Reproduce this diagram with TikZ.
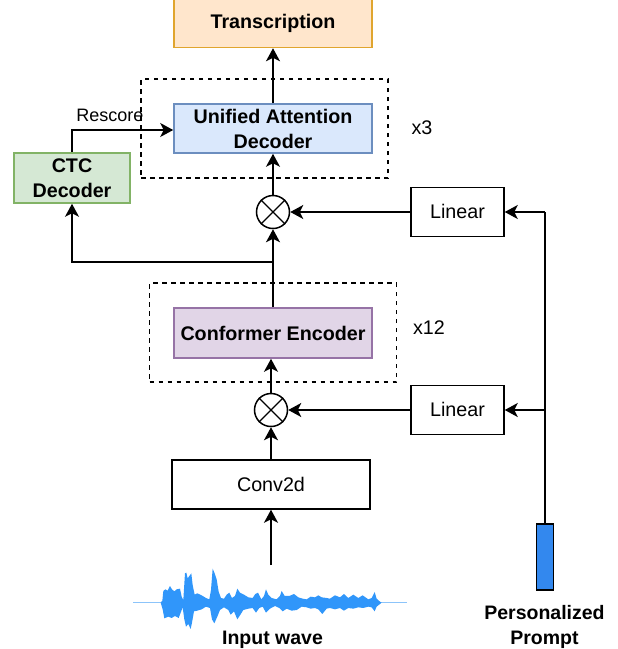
\documentclass[tikz,border=0pt]{standalone}
\usepackage{fontspec}
\setmainfont{Liberation Sans}
\usetikzlibrary{arrows.meta,calc}
\definecolor{wavec}{HTML}{3096FA}
\definecolor{wavethin}{HTML}{8CC4FA}
\definecolor{transF}{HTML}{FFE6CC}\definecolor{transD}{HTML}{E0A52E}
\definecolor{uniF}{HTML}{DAE8FC}\definecolor{uniD}{HTML}{6C8EBF}
\definecolor{ctcF}{HTML}{D5E8D4}\definecolor{ctcD}{HTML}{82B366}
\definecolor{confF}{HTML}{E1D5E7}\definecolor{confD}{HTML}{9673A6}
\definecolor{barF}{HTML}{3388EE}
\tikzset{
  box/.style={draw=black,line width=1.5pt,inner sep=0pt,align=center,font=\fontsize{19.7}{25}\selectfont},
  cbox/.style={box,line width=1.6pt,font=\bfseries\fontsize{19.7}{25}\selectfont},
  lbl/.style={inner sep=0pt,align=center},
  conn/.style={draw=black,line width=1.8pt,-{Stealth[length=13pt,width=14pt,inset=3.5pt]}},
  plain/.style={draw=black,line width=1.8pt},
  dbox/.style={draw=black,line width=1.3pt,dash pattern=on 4.5pt off 4.5pt,inner sep=0pt},
  oplus/.style={circle,draw=black,line width=1.5pt,minimum size=33pt,inner sep=0pt},
  xline/.style={draw=black,line width=1.3pt}
}
\begin{document}
\begin{tikzpicture}[x=1pt,y=-1pt]
\useasboundingbox (0,0) rectangle (618,649);
% dashed frames
\node[dbox,minimum width=247pt,minimum height=99pt] (dectop) at (264.5,128.5) {};
\node[dbox,minimum width=247pt,minimum height=99pt] (encbot) at (273,332.5) {};
% boxes
\node[cbox,draw=transD,fill=transF,minimum width=198pt,minimum height=48.5pt] (trans) at (273,23.2) {\raisebox{1pt}{Transcription}};
\node[cbox,draw=uniD,fill=uniF,minimum width=198pt,minimum height=49pt] (uni) at (273,128.5) {Unified Attention\\Decoder};
\node[cbox,draw=ctcD,fill=ctcF,minimum width=116pt,minimum height=50pt] (ctc) at (72,178) {CTC\\Decoder};
\node[cbox,draw=confD,fill=confF,minimum width=198pt,minimum height=50pt] (conf) at (273,333) {Conformer Encoder};
\node[box,minimum width=198pt,minimum height=49pt] (conv) at (271,484.5) {\raisebox{1pt}{Conv2d}};
\node[box,minimum width=93pt,minimum height=49pt] (lin1) at (457.5,212) {\raisebox{1pt}{Linear}};
\node[box,minimum width=93pt,minimum height=49pt] (lin2) at (457.5,410) {\raisebox{1pt}{Linear}};
\node[oplus] (ox1) at (273,212) {};
\node[oplus] (ox2) at (271,410) {};
\draw[xline] (ox1.north west) -- (ox1.south east) (ox1.north east) -- (ox1.south west);
\draw[xline] (ox2.north west) -- (ox2.south east) (ox2.north east) -- (ox2.south west);
\node[draw=black,line width=1.4pt,fill=barF,minimum width=16.5pt,minimum height=66pt,inner sep=0pt] (bar) at (545,557) {};
% free labels
\node[lbl,font=\fontsize{18}{20}\selectfont] (resc) at (110,115) {Rescore};
\node[lbl,font=\fontsize{19.7}{22}\selectfont] (x3) at (422,128) {x3};
\node[lbl,font=\fontsize{19.7}{22}\selectfont] (x12) at (429,328) {x12};
\node[lbl,font=\bfseries\fontsize{19.5}{25}\selectfont] (inw) at (272.5,639.5) {Input wave};
\node[lbl,font=\bfseries\fontsize{19.5}{25}\selectfont] (pp) at (544.5,626.5) {Personalized\\Prompt};
% connector points
\coordinate (wavetop) at (271,565);
\coordinate (branch) at (conf.north |- 0,262);
\coordinate (ctcb) at (ctc.south |- branch);
\coordinate (ctct) at (ctc.north |- 0,130);
\coordinate (unil) at (uni.west |- ctct);
\coordinate (vtop) at (bar.north |- lin1.east);
\coordinate (vmid) at (bar.north |- lin2.east);
% connectors
\draw[conn] (wavetop) -- (conv.south);
\draw[conn] (conv.north -| ox2) -- (ox2.south);
\draw[conn] (ox2.north) -- (conf.south -| ox2);
\draw[conn] (lin2.west) -- (ox2.east);
\draw[conn] (conf.north) -- (ox1.south);
\draw[conn] (ox1.north) -- (uni.south);
\draw[conn] (lin1.west) -- (ox1.east);
\draw[conn] (uni.north) -- (trans.south);
\draw[conn] (branch) -- (ctcb) -- (ctc.south);
\draw[conn] (ctc.north) -- (ctct) -- (unil);
\draw[plain] (bar.north) -- (vtop);
\draw[conn] (vtop) -- (lin1.east);
\draw[conn] (vmid) -- (lin2.east);
% waveform
\begin{scope}[shift={(120,510)},x=0.3333pt,y=-0.3333pt]
\draw[wavethin,line width=1.1pt] (40,278) -- (125,278) (775,278) -- (862,278);
\fill[wavec] (122,278) -- (127,272) -- (130,243) -- (136,238) -- (143,242) -- (150,228) -- (156,238) -- (163,244) -- (170,238) -- (180,236) -- (185,260) -- (190,270) -- (195,190) -- (199,188) -- (203,205) -- (208,198) -- (214,190) -- (218,225) -- (224,254) -- (232,250) -- (245,256) -- (258,264) -- (268,268) -- (273,240) -- (278,176) -- (284,190) -- (290,208) -- (296,245) -- (303,264) -- (312,266) -- (320,254) -- (328,248) -- (336,264) -- (345,258) -- (352,236) -- (360,248) -- (372,254) -- (385,262) -- (398,264) -- (406,252) -- (414,248) -- (424,268) -- (432,258) -- (438,238) -- (445,254) -- (455,264) -- (470,268) -- (480,258) -- (485,243) -- (494,258) -- (508,258) -- (522,252) -- (535,262) -- (548,266) -- (560,268) -- (572,260) -- (585,262) -- (595,256) -- (605,262) -- (620,264) -- (630,266) -- (645,256) -- (660,262) -- (672,252) -- (685,264) -- (700,254) -- (715,264) -- (728,256) -- (745,268) -- (755,264) -- (764,246) -- (770,266) -- (780,275) -- (785,278)
-- (780,282) -- (770,290) -- (764,304) -- (755,292) -- (745,290) -- (730,294) -- (715,292) -- (700,296) -- (685,294) -- (672,302) -- (660,294) -- (645,298) -- (630,294) -- (620,296) -- (607,312) -- (595,298) -- (585,294) -- (572,296) -- (560,292) -- (545,290) -- (530,300) -- (515,302) -- (500,296) -- (488,304) -- (478,294) -- (465,288) -- (450,296) -- (438,308) -- (428,290) -- (418,294) -- (408,308) -- (398,294) -- (385,296) -- (370,300) -- (360,316) -- (352,328) -- (342,304) -- (332,314) -- (325,300) -- (312,292) -- (300,300) -- (292,320) -- (283,340) -- (276,328) -- (270,294) -- (258,290) -- (245,298) -- (232,302) -- (222,304) -- (216,338) -- (212,357) -- (205,342) -- (198,350) -- (193,328) -- (188,292) -- (182,308) -- (176,324) -- (165,318) -- (155,324) -- (145,320) -- (133,325) -- (128,298) -- cycle;
\end{scope}
\end{tikzpicture}
\end{document}
